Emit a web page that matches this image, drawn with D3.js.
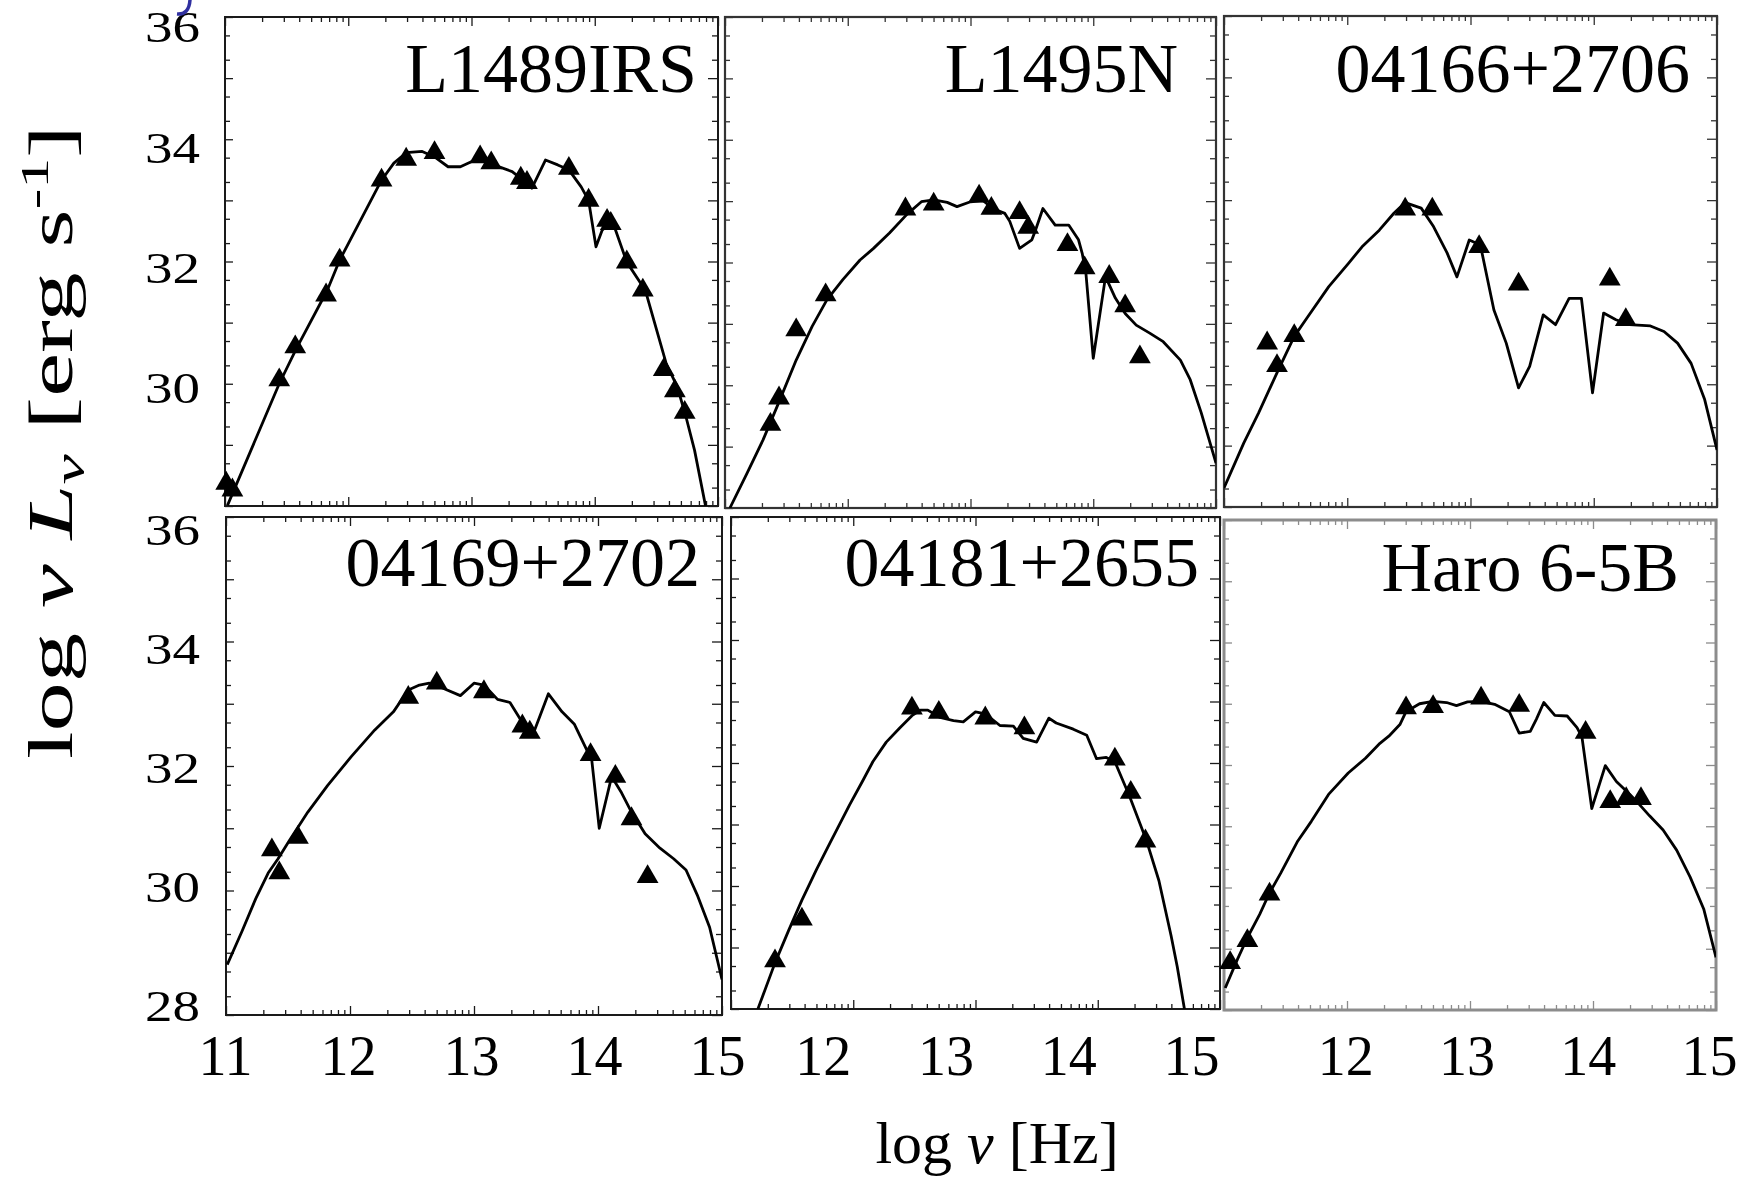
<!DOCTYPE html>
<html><head><meta charset="utf-8">
<script src="https://cdn.jsdelivr.net/npm/d3@7"></script>
<style>
html,body{margin:0;padding:0;background:#fff;}
svg{display:block;font-family:"Liberation Serif","Times New Roman",serif;}
</style>
</head><body>
<svg id="c" width="1738" height="1182"></svg>
<script>
// ---------------- DATA ----------------
const panelTitles = ["L1489IRS", "L1495N", "04166+2706", "04169+2702", "04181+2655", "Haro 6-5B"];
const xMajorTicks = [11, 12, 13, 14, 15];
const yMajorTicks = [28, 29, 30, 31, 32, 33, 34, 35, 36];
const xLabelsCol1 = [11, 12, 13, 14, 15];
const xLabelsOther = [12, 13, 14, 15];
const yLabelsTop = [36, 34, 32, 30];
const yLabelsBottom = [36, 34, 32, 30, 28];

// model SEDs [log nu, log nuLnu]
const modelL1489IRS = [[11.02,28.01],[11.44,30.0],[11.58,30.58],[11.83,31.53],[11.93,32.02],[12.27,33.33],[12.37,33.61],[12.47,33.78],[12.60,33.80],[12.70,33.71],[12.81,33.55],[12.91,33.55],[13.06,33.69],[13.12,33.69],[13.18,33.58],[13.33,33.47],[13.40,33.36],[13.49,33.20],[13.60,33.66],[13.70,33.58],[13.79,33.50],[13.89,33.22],[13.95,33.0],[14.01,32.24],[14.06,32.51],[14.14,32.68],[14.26,31.99],[14.41,31.53],[14.58,30.33],[14.67,29.95],[14.74,29.46],[14.81,28.91],[14.90,27.99]];
const modelL1495N = [[11.04,28.0],[11.18,28.57],[11.31,29.11],[11.43,29.68],[11.58,30.41],[11.71,30.96],[11.83,31.39],[11.96,31.72],[12.10,32.04],[12.21,32.23],[12.34,32.48],[12.48,32.78],[12.60,32.99],[12.70,33.02],[12.81,32.98],[12.89,32.91],[13.0,32.99],[13.10,33.01],[13.19,32.87],[13.28,32.80],[13.32,32.67],[13.40,32.23],[13.50,32.37],[13.53,32.53],[13.59,32.88],[13.69,32.61],[13.80,32.61],[13.88,32.37],[13.91,32.15],[13.94,31.83],[14.0,30.44],[14.10,31.77],[14.18,31.42],[14.26,31.17],[14.35,30.98],[14.46,30.85],[14.57,30.71],[14.71,30.41],[14.79,30.09],[14.88,29.55],[15.0,28.73]];
const model04166 = [[11.0,28.31],[11.16,29.04],[11.28,29.53],[11.44,30.23],[11.57,30.78],[11.68,31.10],[11.85,31.59],[12.01,31.97],[12.12,32.24],[12.26,32.51],[12.38,32.79],[12.47,32.96],[12.60,32.87],[12.70,32.57],[12.81,32.14],[12.89,31.75],[12.99,32.35],[13.08,32.27],[13.19,31.21],[13.29,30.67],[13.39,29.94],[13.48,30.29],[13.59,31.13],[13.69,30.97],[13.80,31.40],[13.90,31.40],[13.99,29.86],[14.08,31.16],[14.18,31.05],[14.29,30.97],[14.46,30.95],[14.57,30.86],[14.68,30.67],[14.79,30.34],[14.90,29.75],[15.0,28.93]];
const model04169 = [[11.01,28.81],[11.13,29.35],[11.24,29.87],[11.34,30.28],[11.42,30.51],[11.51,30.80],[11.66,31.26],[11.82,31.69],[12.01,32.15],[12.20,32.58],[12.35,32.87],[12.47,33.22],[12.56,33.30],[12.64,33.33],[12.75,33.25],[12.89,33.13],[13.0,33.33],[13.08,33.30],[13.19,33.07],[13.29,33.02],[13.39,32.70],[13.48,32.53],[13.60,33.16],[13.71,32.87],[13.81,32.67],[13.88,32.38],[13.95,32.09],[14.01,31.0],[14.11,31.83],[14.19,31.57],[14.27,31.26],[14.38,30.91],[14.50,30.68],[14.61,30.51],[14.71,30.33],[14.80,29.93],[14.90,29.41],[15.0,28.57]];
const model04181 = [[11.22,28.0],[11.36,28.75],[11.47,29.27],[11.58,29.77],[11.70,30.27],[11.81,30.70],[11.97,31.32],[12.08,31.72],[12.16,32.02],[12.27,32.34],[12.38,32.57],[12.48,32.77],[12.55,32.86],[12.61,32.86],[12.71,32.74],[12.82,32.69],[12.90,32.67],[13.0,32.83],[13.08,32.80],[13.20,32.61],[13.31,32.60],[13.39,32.40],[13.50,32.34],[13.60,32.73],[13.66,32.65],[13.80,32.55],[13.91,32.45],[13.99,32.07],[14.07,32.09],[14.14,32.02],[14.26,31.46],[14.40,30.73],[14.50,30.09],[14.60,29.19],[14.65,28.69],[14.71,27.99]];
const modelHaro65B = [[11.01,28.36],[11.11,28.83],[11.19,29.18],[11.29,29.56],[11.37,29.91],[11.46,30.23],[11.60,30.76],[11.71,31.08],[11.85,31.52],[12.01,31.87],[12.15,32.11],[12.26,32.34],[12.34,32.47],[12.43,32.66],[12.48,32.87],[12.59,33.0],[12.70,33.04],[12.81,33.02],[12.89,32.97],[12.98,33.03],[13.09,33.04],[13.20,32.99],[13.32,32.87],[13.40,32.52],[13.49,32.55],[13.54,32.75],[13.60,33.02],[13.69,32.81],[13.79,32.80],[13.87,32.61],[13.91,32.46],[13.99,31.29],[14.10,31.99],[14.19,31.73],[14.30,31.52],[14.38,31.35],[14.46,31.17],[14.57,30.94],[14.68,30.61],[14.79,30.17],[14.90,29.65],[15.0,28.86]];

// observed photometry [log nu, log nuLnu]
const obsL1489IRS = [[11.01,28.37],[11.06,28.26],[11.44,30.06],[11.57,30.60],[11.82,31.45],[11.93,32.02],[12.27,33.33],[12.47,33.67],[12.70,33.78],[13.07,33.71],[13.16,33.61],[13.40,33.36],[13.45,33.29],[13.79,33.52],[13.95,33.0],[14.10,32.67],[14.13,32.62],[14.26,31.99],[14.39,31.53],[14.56,30.23],[14.65,29.88],[14.73,29.53]];
const obsL1495N = [[11.37,29.36],[11.44,29.79],[11.58,30.90],[11.82,31.47],[12.47,32.87],[12.70,32.95],[13.07,33.08],[13.17,32.88],[13.40,32.81],[13.47,32.57],[13.79,32.29],[13.93,31.91],[14.13,31.77],[14.26,31.29],[14.38,30.46]];
const obs04166 = [[11.35,30.67],[11.43,30.30],[11.57,30.79],[12.47,32.85],[12.69,32.85],[13.07,32.24],[13.39,31.63],[14.13,31.71],[14.26,31.05]];
const obs04169 = [[11.37,30.65],[11.43,30.28],[11.58,30.85],[12.47,33.10],[12.70,33.33],[13.08,33.19],[13.39,32.64],[13.45,32.54],[13.94,32.18],[14.14,31.83],[14.27,31.15],[14.40,30.22]];
const obs04181 = [[11.36,28.78],[11.58,29.46],[12.48,32.89],[12.70,32.82],[13.08,32.73],[13.40,32.57],[14.14,32.06],[14.27,31.52],[14.39,30.73]];
const obsHaro65B = [[11.05,28.77],[11.19,29.13],[11.37,29.89],[12.48,32.93],[12.70,32.95],[13.09,33.09],[13.40,32.97],[13.94,32.53],[14.14,31.40],[14.27,31.45],[14.39,31.45]];

const models = [modelL1489IRS, modelL1495N, model04166, model04169, model04181, modelHaro65B];
const observations = [obsL1489IRS, obsL1495N, obs04166, obs04169, obs04181, obsHaro65B];

// ---------------- LAYOUT ----------------
const layout = [
  {x0:225, x1:718,  yT:17,  yB:506,  tx:697,  ty:92,  stroke:"#1a1a1a", sw:2},
  {x0:725, x1:1216, yT:17,  yB:508,  tx:1178, ty:92,  stroke:"#333",    sw:2.2},
  {x0:1224,x1:1717, yT:16,  yB:507,  tx:1690, ty:92,  stroke:"#333",    sw:2.2},
  {x0:226, x1:722,  yT:517, yB:1015, tx:700,  ty:586, stroke:"#1a1a1a", sw:2},
  {x0:731, x1:1220, yT:517, yB:1009, tx:1199, ty:586, stroke:"#1a1a1a", sw:2},
  {x0:1224,x1:1716, yT:520, yB:1010, tx:1679, ty:591, stroke:"#8c8c8c", sw:3}
];

const svg = d3.select("#c");
svg.append("rect").attr("width",1738).attr("height",1182).attr("fill","#fff");

const xMinor = [];
for (let d = 11; d < 15; d++) for (let k = 2; k <= 9; k++) xMinor.push(d + Math.log10(k));
const yMinor = [];
for (let d = 28; d < 36; d++) [2,5].forEach(k => yMinor.push(d + Math.log10(k)));

const defs = svg.append("defs");
const tri = d3.symbol().type(d3.symbolTriangle).size(205);

layout.forEach((L, i) => {
  const x = d3.scaleLinear().domain([11,15]).range([L.x0, L.x1]);
  const y = d3.scaleLinear().domain([28,36]).range([L.yB, L.yT]);
  const g = svg.append("g");

  const mk = (axisFn, scale, vals, size, tr) => {
    const a = g.append("g").attr("transform", tr)
      .call(axisFn(scale).tickValues(vals).tickSize(-size).tickFormat(""));
    a.select(".domain").remove();
    a.selectAll("line").attr("stroke", L.stroke).attr("stroke-width", 1.3);
  };
  mk(d3.axisBottom, x, xMajorTicks, 9, `translate(0,${L.yB})`);
  mk(d3.axisBottom, x, xMinor, 5, `translate(0,${L.yB})`);
  mk(d3.axisTop, x, xMajorTicks, 9, `translate(0,${L.yT})`);
  mk(d3.axisTop, x, xMinor, 5, `translate(0,${L.yT})`);
  mk(d3.axisLeft, y, yMajorTicks, 8, `translate(${L.x0},0)`);
  mk(d3.axisLeft, y, yMinor, 5, `translate(${L.x0},0)`);
  mk(d3.axisRight, y, yMajorTicks, 10, `translate(${L.x1},0)`);
  mk(d3.axisRight, y, yMinor, 6, `translate(${L.x1},0)`);

  g.append("rect").attr("x", L.x0).attr("y", L.yT)
    .attr("width", L.x1 - L.x0).attr("height", L.yB - L.yT)
    .attr("fill","none").attr("stroke", L.stroke).attr("stroke-width", L.sw);

  defs.append("clipPath").attr("id","clip"+i).append("rect")
    .attr("x", L.x0).attr("y", L.yT).attr("width", L.x1 - L.x0).attr("height", L.yB - L.yT);

  g.append("path").datum(models[i])
    .attr("clip-path", `url(#clip${i})`)
    .attr("d", d3.line().x(d => x(d[0])).y(d => y(d[1])))
    .attr("fill","none").attr("stroke","#000").attr("stroke-width",2.8)
    .attr("stroke-linejoin","round");

  g.selectAll("path.pt").data(observations[i]).join("path").attr("class","pt")
    .attr("d", tri)
    .attr("transform", d => `translate(${x(d[0])},${y(d[1])})`)
    .attr("fill","#000");

  g.append("text").attr("x", L.tx).attr("y", L.ty).attr("text-anchor","end")
    .attr("font-size", 70).attr("fill","#000").text(panelTitles[i]);
});

// ---------------- AXIS LABELS ----------------
const xLabelScales = [
  {scale: d3.scaleLinear().domain([11,15]).range([225,717]),  vals: xLabelsCol1},
  {scale: d3.scaleLinear().domain([11,15]).range([700,1191]), vals: xLabelsOther},
  {scale: d3.scaleLinear().domain([11,15]).range([1224,1709]),vals: xLabelsOther}
];
xLabelScales.forEach(s => {
  const a = svg.append("g").attr("transform","translate(0,1030)")
    .call(d3.axisBottom(s.scale).tickValues(s.vals).tickSize(0).tickPadding(0).tickFormat(d3.format("d")));
  a.select(".domain").remove();
  a.selectAll("text").attr("font-size",56).attr("font-family","Liberation Serif, serif")
    .attr("fill","#000").attr("dy","0.8em");
});

const yLabelScales = [
  {scale: d3.scaleLinear().domain([36,30]).range([27,388]), vals: yLabelsTop},
  {scale: d3.scaleLinear().domain([36,28]).range([530,1006]), vals: yLabelsBottom}
];
yLabelScales.forEach(s => {
  svg.append("g").selectAll("text").data(s.vals).join("text")
    .attr("transform", d => `translate(200,${s.scale(d)}) scale(1.25,1)`)
    .attr("text-anchor","end").attr("dy","0.35em")
    .attr("font-family","Liberation Serif, serif")
    .attr("font-size",44).attr("fill","#000").text(d => d);
});

const xt = svg.append("text").attr("x", 997).attr("y", 1163).attr("text-anchor","middle")
  .attr("font-size", 60).attr("fill","#000");
xt.append("tspan").text("log ");
xt.append("tspan").attr("font-style","italic").text("ν");
xt.append("tspan").text(" [Hz]");

const yt = svg.append("text").attr("text-anchor","middle").attr("font-size", 64).attr("fill","#000")
  .attr("font-family","Liberation Serif, serif");
yt.append("tspan").text("log ");
yt.append("tspan").attr("font-style","italic").text("ν");
yt.append("tspan").text(" ");
yt.append("tspan").attr("font-style","italic").text("L");
yt.append("tspan").attr("font-style","italic").attr("font-size",44).attr("dy",12).text("ν");
yt.append("tspan").attr("dy",-12).text(" [erg s");
yt.append("tspan").attr("font-size",40).attr("dy",-24).text("-1");
yt.append("tspan").attr("dy",24).text("]");
const len = yt.node().getComputedTextLength();
const sx = 634 / len;
yt.attr("transform", `translate(72,442) rotate(-90) scale(${sx},1)`);

svg.append("path").attr("d","M190,0 Q189,15 177,14").attr("fill","none")
  .attr("stroke","#3030a0").attr("stroke-width",3.5);
</script>
</body></html>
